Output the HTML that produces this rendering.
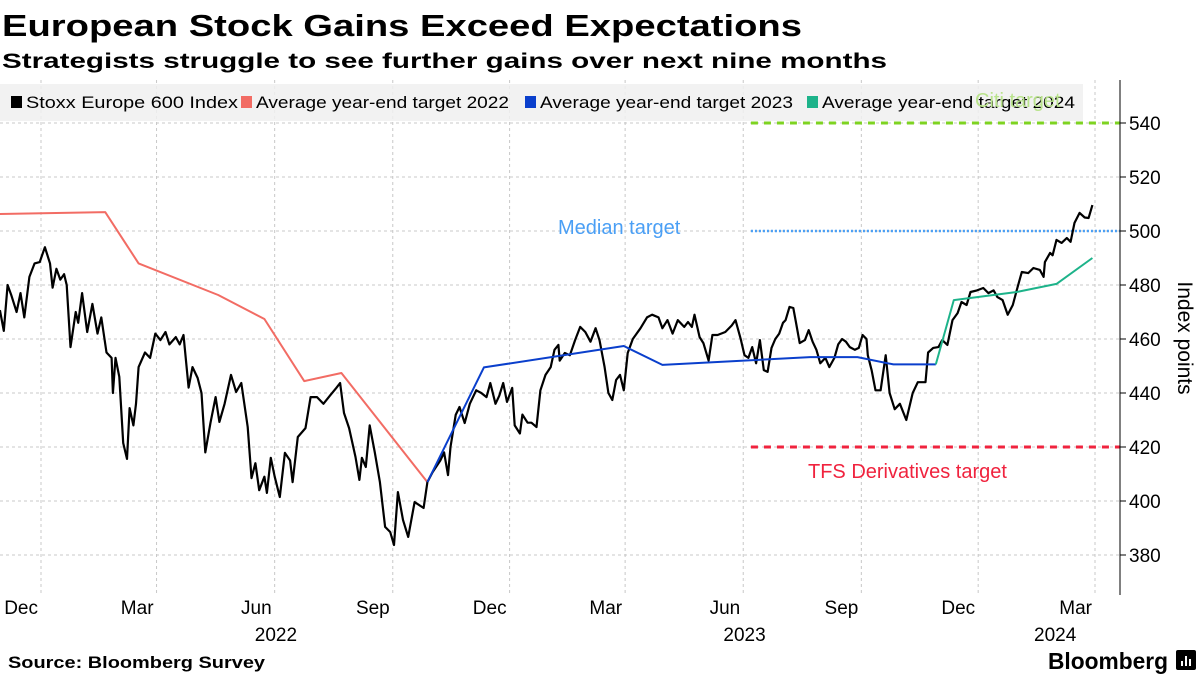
<!DOCTYPE html>
<html><head><meta charset="utf-8"><style>
html,body{margin:0;padding:0;background:#fff;}
svg{display:block;font-family:"Liberation Sans",sans-serif;}
</style></head><body>
<svg id="chart" width="1200" height="675" viewBox="0 0 1200 675" xmlns="http://www.w3.org/2000/svg">
<text x="2" y="36" font-size="31" font-weight="bold" textLength="800" lengthAdjust="spacingAndGlyphs">European Stock Gains Exceed Expectations</text>
<text x="2" y="68" font-size="21" font-weight="bold" textLength="885" lengthAdjust="spacingAndGlyphs">Strategists struggle to see further gains over next nine months</text>
<g id="grid"></g>
<g id="annot"></g>
<g id="series"></g>
<g id="legend"></g>
<g id="annot2"></g>
<g id="axes"></g>
<text x="8" y="668" font-size="17" font-weight="bold" textLength="257" lengthAdjust="spacingAndGlyphs">Source: Bloomberg Survey</text>
<text x="1048" y="669" font-size="23" font-weight="bold" textLength="120" lengthAdjust="spacingAndGlyphs">Bloomberg</text>
<g><rect x="1176" y="650" width="20" height="20" rx="2" fill="#000"/><rect x="1181" y="661" width="2" height="5" fill="#fff"/><rect x="1185" y="656" width="2" height="10" fill="#fff"/><rect x="1189" y="659" width="2" height="7" fill="#fff"/></g>
</svg>
<script>
// days since 2021-12-01
const stoxxDays=[-32,-29,-26,-23,-19,-16,-13,-9,-5,-1,3,7,9,12,15,18,20,23,27,29,32,36,40,44,47,51,55,56,58,61,64,67,69,72,74,76,81,85,89,93,97,100,105,108,111,115,118,122,125,128,132,136,139,143,148,152,156,161,164,167,170,174,176,179,182,186,190,194,196,200,206,210,215,220,225,230,233,236,240,245,248,250,253,256,260,264,268,272,275,278,282,286,291,298,301,305,311,314,317,319,323,326,330,334,339,343,347,350,354,357,360,363,367,369,373,375,379,382,386,389,393,397,400,403,404,408,412,416,420,424,428,432,435,439,442,445,448,451,454,457,461,467,472,476,481,484,488,492,496,501,504,507,509,513,516,520,523,527,533,538,541,545,548,551,554,557,560,563,566,569,572,575,578,580,583,586,588,591,595,598,601,604,607,611,614,618,621,624,627,630,634,637,640,643,644,647,650,654,658,661,665,669,674,679,683,689,691,695,699,702,706,710,714,717,721,724,729,734,738,742,745,749,753,757,760,764,769,773,778,781,782,786,788,791,795,799,802,805,809,813,816,819];
const stoxxValues=[470.7,463,480,476,470,477,468,483,488,488.5,494,488,479,486,482,484,480,457,470,466,477,462.6,473,462,468,455,453,440,453,446,421.5,415.6,434.4,428,436,449.6,455,453,462,459.6,462.6,458,460.7,458,461.5,442,449.6,445.6,440,418,429,438.5,429.3,436,446.7,440.4,443.7,427.4,408.5,414,404,409,403,416,409,401.5,417.8,415,407,423.7,427,438.5,438.5,436,439,441.9,443.7,432.6,427,416.3,407.8,416,412.6,428,418,407,390.4,388.5,383.7,403.3,393,386.7,399.6,397.4,407,410.7,415,418,409.6,420,431.9,434.8,428.9,436,441,440,438.5,443.7,436,439,443.7,436.7,441.9,428,425,432,429,429,427.4,441,446.7,449.6,456,457.8,452,454.8,454,459.6,464.5,462.6,459,464,459.6,449.6,440,437.4,444.8,446.7,441,454.8,460,464,468,469,468,464,467,462,467,464.5,466.3,464.5,469,460.7,458.5,452,461.5,461.5,462.6,465,467,460,454,453,457,451,459.6,448.5,447.8,456.7,460,462,466,467,471.9,471.5,466.3,458.5,459.6,463.3,459,456,451,453,449.6,453,458,460,459,457,456,456.7,461.5,460,454,448.5,441,441,454,440,434,436,430,440,444,444,455,456.7,457,459.6,457.8,467,469.6,473.7,472.6,477.4,478,478.9,477,478,475.5,474.4,469,472.6,478,484.8,484.4,486.3,485.6,483,488.5,491.9,491,496.7,495.6,497.4,496,503,506.7,505,504.8,509.6];
const t2022Days=[-32,50,76,138,174,205,234,301];
const t2022Values=[506.3,507,488,476.3,467.4,444.4,447.4,407];
const t2023Days=[301,345,454,484,599,636,664,697];
const t2023Values=[407,449.5,457.4,450.4,453.3,453.3,450.6,450.6];
const t2024Days=[697,711,760,791,819];
const t2024Values=[450.6,474.4,477.4,480.4,490];
const yTicks=[380,400,420,440,460,480,500,520,540];
const monthTickDays=[0,90,182,274,365,455,547,639,730,821];
const monthTickLabels=["Dec","Mar","Jun","Sep","Dec","Mar","Jun","Sep","Dec","Mar"];
const yearLabelDays=[183,548,790];
const yearLabels=["2022","2023","2024"];
const targetStartDay=553;
const citiTarget=540, medianTarget=500, tfsTarget=420;

const NS="http://www.w3.org/2000/svg";
const X=d=>41+d*1.2838;
const Y=v=>123+(540-v)*2.7;
const AXR=1120, TOP=80, BOT=595;
function mk(tag,attrs,parent){const e=document.createElementNS(NS,tag);for(const k in attrs)e.setAttribute(k,attrs[k]);parent.appendChild(e);return e;}
const grid=document.getElementById('grid'),annot=document.getElementById('annot'),annot2=document.getElementById('annot2'),series=document.getElementById('series'),legend=document.getElementById('legend'),axes=document.getElementById('axes');

yTicks.forEach(v=>{
  const l=mk('line',{x1:0,x2:AXR,y1:Y(v),y2:Y(v),stroke:'#c8c8c8','stroke-width':1,'stroke-dasharray':'3,3'},grid);
  
  
  const t=mk('line',{x1:AXR,x2:AXR+6,y1:Y(v),y2:Y(v),stroke:'#000','stroke-width':1},axes);
  
  
  const tx=mk('text',{x:AXR+9,y:Y(v)+7,'font-size':19},axes);
  tx.textContent=v;
  
  
});
monthTickDays.forEach((d,i)=>{
  const l=mk('line',{x1:X(d),x2:X(d),y1:TOP,y2:BOT,stroke:'#c8c8c8','stroke-width':1,'stroke-dasharray':'3,3'},grid);
  
  
  const t=mk('text',{x:X(d)-3,y:614,'font-size':19,'text-anchor':'end'},axes);
  t.textContent=monthTickLabels[i];
  
  
});
yearLabelDays.forEach((d,i)=>{
  const t=mk('text',{x:X(d),y:641,'font-size':19,'text-anchor':'middle'},axes);
  t.textContent=yearLabels[i];
  
  
});
const ax=mk('line',{x1:AXR,x2:AXR,y1:TOP,y2:BOT,stroke:'#000','stroke-width':1},axes);


const yt=mk('text',{x:0,y:0,'font-size':21,'text-anchor':'middle',transform:'translate(1178,338) rotate(90)'},axes);
yt.textContent='Index points';



// annotation target lines
const c=mk('line',{x1:X(targetStartDay),x2:AXR,y1:Y(citiTarget),y2:Y(citiTarget),stroke:'#7ed321','stroke-width':3,'stroke-dasharray':'7,6'},annot2);


const m=mk('line',{x1:X(targetStartDay),x2:AXR,y1:Y(medianTarget),y2:Y(medianTarget),stroke:'#4a9ff5','stroke-width':2.5,'stroke-dasharray':'2,2'},annot);


const f=mk('line',{x1:X(targetStartDay),x2:AXR,y1:Y(tfsTarget),y2:Y(tfsTarget),stroke:'#f0233e','stroke-width':3,'stroke-dasharray':'7,6'},annot);


const ct=mk('text',{x:975,y:Y(citiTarget)-16,'font-size':20,fill:'#b9e38c'},annot2);ct.textContent='Citi target';


const mt=mk('text',{x:558,y:Y(medianTarget)+3,'font-size':20,fill:'#4a9ff5'},annot);mt.textContent='Median target';


const ft=mk('text',{x:808,y:Y(tfsTarget)+31,'font-size':20,fill:'#f0233e'},annot);ft.textContent='TFS Derivatives target';



function path(days,vals,color,w,name){
  const d=days.map((dd,i)=>(i?'L':'M')+X(dd).toFixed(1)+','+Y(vals[i]).toFixed(1)).join('');
  const p=mk('path',{d:d,fill:'none',stroke:color,'stroke-width':w,'stroke-linejoin':'round'},series);
  
  
}
path(t2022Days,t2022Values,'#f26c64',2,'target-2022-line');
path(stoxxDays,stoxxValues,'#000',2.2,'stoxx-600-line');
path(t2023Days,t2023Values,'#0a3fcc',2,'target-2023-line');
path(t2024Days,t2024Values,'#1db38a',2,'target-2024-line');

// legend
const lb=mk('rect',{x:0,y:84,width:1083,height:37,fill:'rgba(240,240,240,0.85)'},legend);


const items=[['Stoxx Europe 600 Index','#000',11],['Average year-end target 2022','#f26c64',241],['Average year-end target 2023','#0a3fcc',525],['Average year-end target 2024','#1db38a',807]];
const widths=[212,253,253,253];
items.forEach((it,i)=>{
  const g=mk('g',{},legend);
  
  
  mk('rect',{x:it[2],y:96,width:11,height:12,fill:it[1]},g);
  const t=mk('text',{x:it[2]+15,y:108,'font-size':17,textLength:widths[i],lengthAdjust:'spacingAndGlyphs'},g);
  t.textContent=it[0];
});
</script>
</body></html>
